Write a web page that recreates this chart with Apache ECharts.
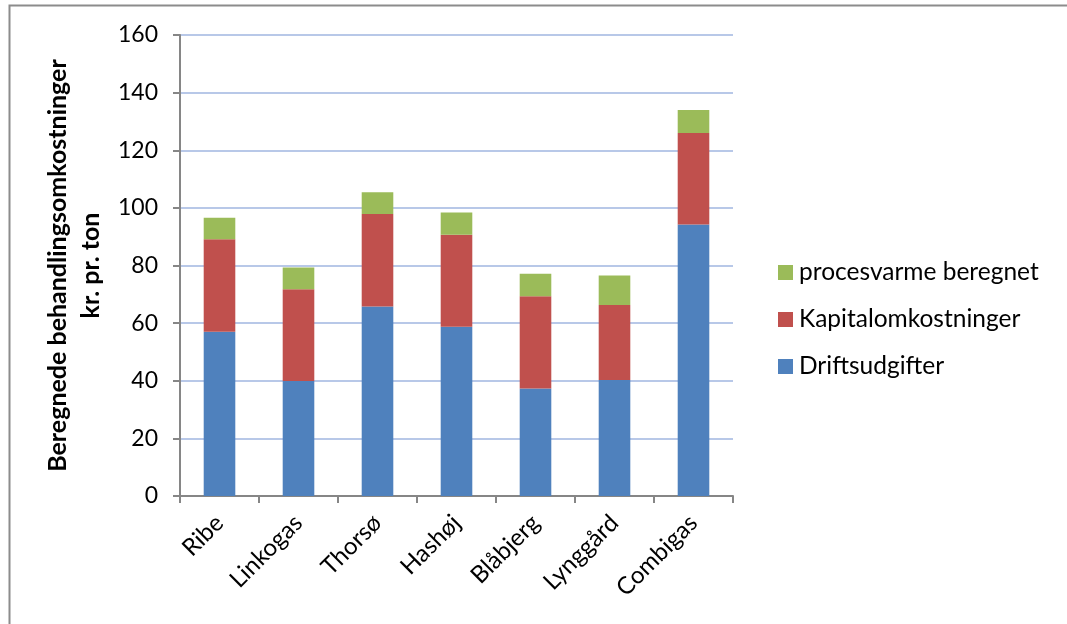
<!DOCTYPE html>
<html><head><meta charset="utf-8">
<script src="https://cdn.jsdelivr.net/npm/echarts@6/dist/echarts.min.js"></script>
<style>html,body{margin:0;padding:0;background:#fff}#c{width:1067px;height:624px}</style>
</head><body><div id="c"></div>
<script>
const categories = ['Ribe','Linkogas','Thorsø','Hashøj','Blåbjerg','Lynggård','Combigas'];
const driftsudgifter = [57.0, 39.9, 65.8, 58.7, 37.3, 40.3, 94.2];
const kapitalomkostninger = [32.1, 31.9, 32.1, 32.0, 32.0, 26.0, 31.8];
const procesvarme = [7.5, 7.5, 7.5, 7.7, 7.8, 10.2, 8.0];
const yTicks = [0, 20, 40, 60, 80, 100, 120, 140, 160];

const FONT = 'Lato';
const chart = echarts.init(document.getElementById('c'), null, {renderer:'canvas'});
chart.setOption({
  animation: false,
  backgroundColor: '#fff',
  graphic: [{type:'rect', shape:{x:9.5,y:5.5,width:1080,height:640}, style:{fill:'none', stroke:'#8c8c8c', lineWidth:2}, silent:true}],
  grid: {left:180, right:334, top:35, bottom:128},
  legend: {
    orient:'vertical', left:773, top:255, itemGap:22, itemWidth:15, itemHeight:15,
    icon:'rect',
    data:['procesvarme beregnet','Kapitalomkostninger','Driftsudgifter'],
    textStyle:{fontFamily:FONT, fontSize:24.5, color:'#000', padding:[0,0,0,1]}
  },
  xAxis: {
    type:'category', data:categories,
    axisLine:{lineStyle:{color:'#868686', width:2}},
    axisTick:{show:true, length:7, lineStyle:{color:'#868686', width:2}},
    axisLabel:{rotate:45, margin:23, fontFamily:FONT, fontSize:24, color:'#000'}
  },
  yAxis: {
    type:'value', min:yTicks[0], max:yTicks[yTicks.length-1], interval:20,
    name:'Beregnede behandlingsomkostninger\nkr. pr. ton',
    nameLocation:'middle', nameRotate:90, nameGap:70,
    nameTextStyle:{fontFamily:FONT, fontSize:25, fontWeight:'bold', color:'#000', lineHeight:33},
    axisLine:{show:true, lineStyle:{color:'#868686', width:2}},
    axisTick:{show:true, length:7, lineStyle:{color:'#868686', width:2}},
    splitLine:{lineStyle:{color:'#b8c8e8', width:2}},
    axisLabel:{margin:22, fontFamily:FONT, fontSize:23, color:'#000'}
  },
  series: [
    {name:'Driftsudgifter', type:'bar', stack:'a', data:driftsudgifter, barWidth:'40%', itemStyle:{color:'#4f81bd'}},
    {name:'Kapitalomkostninger', type:'bar', stack:'a', data:kapitalomkostninger, itemStyle:{color:'#c0504d'}},
    {name:'procesvarme beregnet', type:'bar', stack:'a', data:procesvarme, itemStyle:{color:'#9bbb59'}}
  ]
});
</script></body></html>
